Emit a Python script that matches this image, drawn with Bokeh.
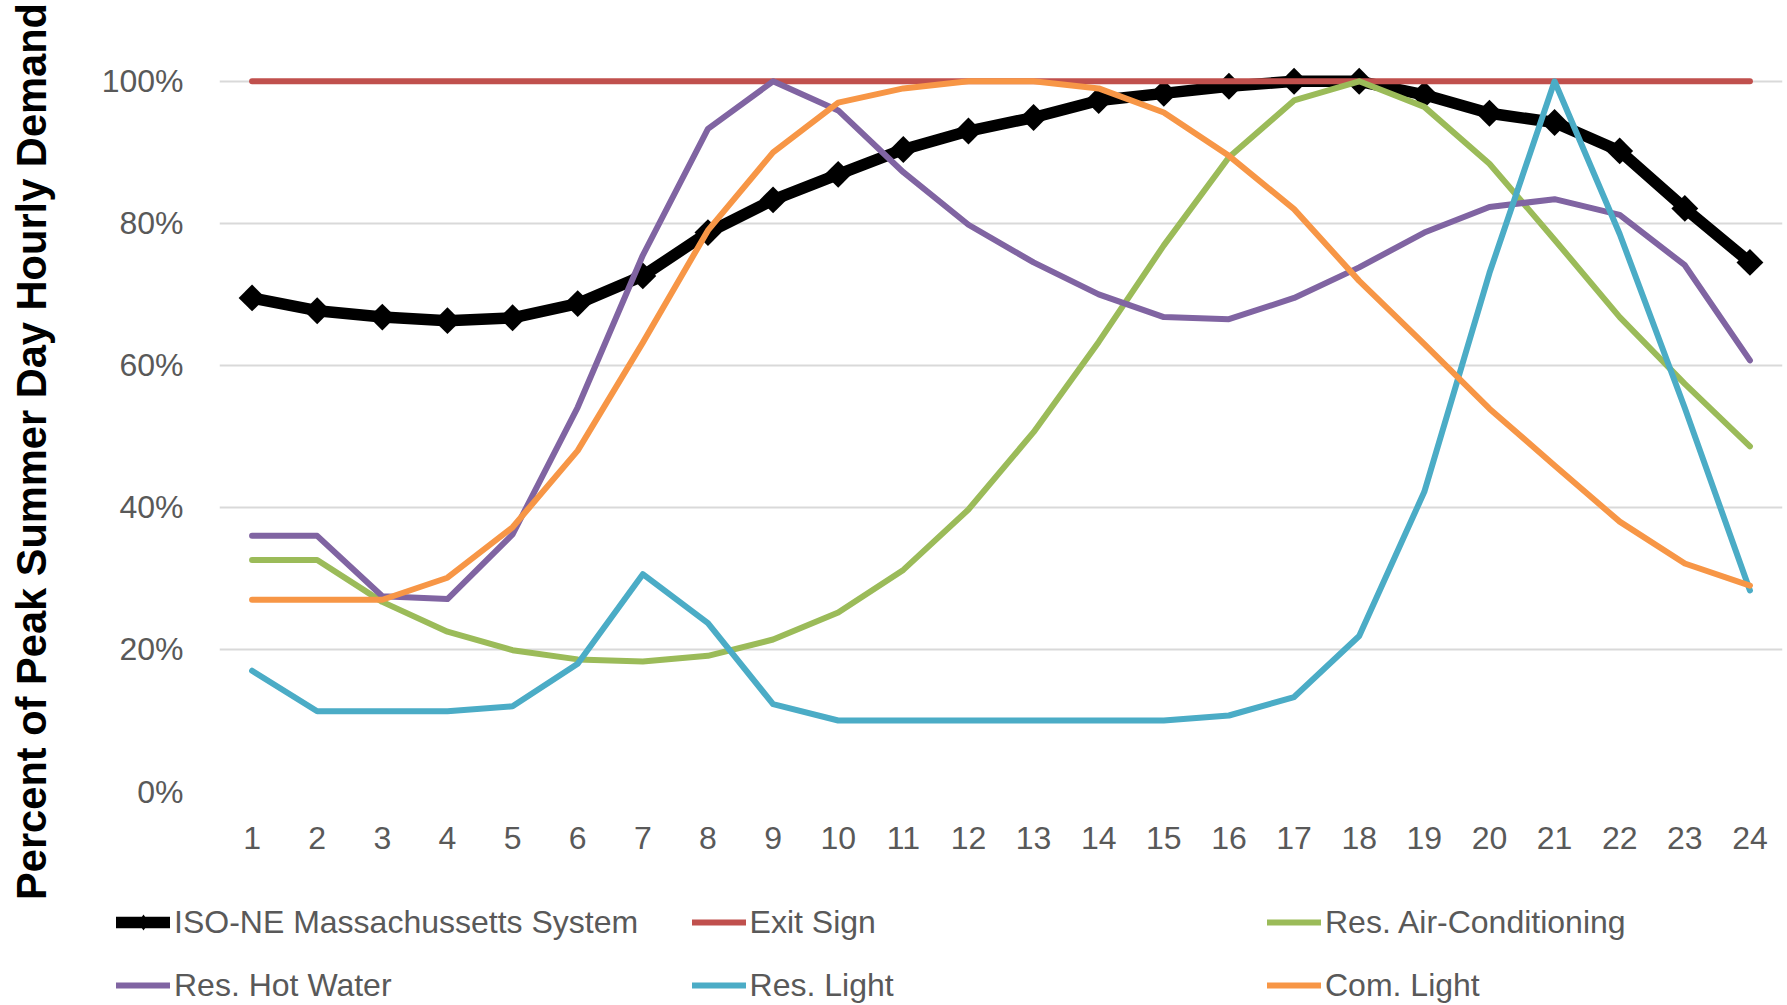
import math
from bokeh.plotting import figure
from bokeh.layouts import row, column
from bokeh.models import (Range1d, FixedTicker, NumeralTickFormatter, Legend, LegendItem,
                          ColumnDataSource)
from bokeh.core.properties import value
from bokeh.embed import file_html
from bokeh.resources import INLINE

# ---------------- data ----------------
hours = list(range(1, 25))
hour_labels = [str(h) for h in hours]
y_ticks = [0.0, 0.2, 0.4, 0.6, 0.8, 1.0]

iso_ne = [0.695, 0.677, 0.668, 0.663, 0.667, 0.687, 0.726, 0.787, 0.833, 0.869, 0.904, 0.930,
          0.949, 0.973, 0.983, 0.993, 1.000, 1.000, 0.981, 0.955, 0.942, 0.902, 0.821, 0.745]
exit_sign = [1.0, 1.0, 1.0, 1.0, 1.0, 1.0, 1.0, 1.0, 1.0, 1.0, 1.0, 1.0,
             1.0, 1.0, 1.0, 1.0, 1.0, 1.0, 1.0, 1.0, 1.0, 1.0, 1.0, 1.0]
res_ac = [0.326, 0.326, 0.267, 0.225, 0.199, 0.186, 0.183, 0.191, 0.214, 0.252, 0.312, 0.397,
          0.506, 0.633, 0.769, 0.893, 0.973, 1.000, 0.964, 0.884, 0.777, 0.668, 0.574, 0.486]
res_hot_water = [0.360, 0.360, 0.275, 0.271, 0.362, 0.541, 0.755, 0.933, 1.000, 0.959, 0.872, 0.798,
                 0.745, 0.700, 0.668, 0.665, 0.695, 0.738, 0.787, 0.823, 0.834, 0.812, 0.741, 0.607]
res_light = [0.170, 0.113, 0.113, 0.113, 0.120, 0.180, 0.306, 0.237, 0.123, 0.100, 0.100, 0.100,
             0.100, 0.100, 0.100, 0.107, 0.133, 0.219, 0.422, 0.730, 1.000, 0.785, 0.540, 0.283]
com_light = [0.270, 0.270, 0.270, 0.301, 0.372, 0.480, 0.632, 0.790, 0.900, 0.970, 0.990, 1.000,
             1.000, 0.990, 0.956, 0.895, 0.820, 0.719, 0.630, 0.539, 0.459, 0.380, 0.321, 0.290]

series_names = ["ISO-NE Massachussetts System", "Exit Sign", "Res. Air-Conditioning",
                "Res. Hot Water", "Res. Light", "Com. Light"]
series_colors = ["#000000", "#C0504D", "#9BBB59", "#8064A2", "#4BACC6", "#F79646"]
y_title = "Percent of Peak Summer Day Hourly Demand"

# ---------------- layout ----------------
W, H = 1784, 1005
TW = 70                      # narrow figure holding the rotated y title
H1 = 880                     # main chart height
PH = H - H1                  # legend strip height
ML, MR, MT, MB = 219 - TW, 2, 60, H1 - 791
frame_h = H1 - MT - MB
px_per_unit = 710.2
FONT = "Liberation Sans"
GREY = "#595959"
SERIES_LW = 6
ISO_LW = 11.5


def bare_figure(w, h, xr, yr):
    f = figure(width=w, height=h, output_backend="svg", toolbar_location=None,
               x_range=xr, y_range=yr, x_axis_type=None, y_axis_type=None,
               min_border_left=0, min_border_right=0, min_border_top=0, min_border_bottom=0)
    f.outline_line_color = None
    f.grid.visible = False
    return f


# --- rotated y-axis title ---
pt = bare_figure(TW, H, Range1d(0, TW), Range1d(0, H))
title_src = ColumnDataSource(dict(x=[31], y=[H - 451], t=[y_title]))
pt.text(x="x", y="y", text="t", source=title_src, angle=math.pi / 2,
        text_align="center", text_baseline="alphabetic",
        text_font=value(FONT), text_font_style="bold", text_font_size="41.6px",
        text_color="#000000")

# --- main chart ---
p = figure(width=W - TW, height=H1, output_backend="svg", toolbar_location=None,
           x_range=Range1d(0.5, 24.5), y_range=Range1d(0, frame_h / px_per_unit),
           min_border_left=ML, min_border_right=MR, min_border_top=MT, min_border_bottom=MB)
p.outline_line_color = None
p.xgrid.visible = False
p.ygrid.grid_line_color = "#D9D9D9"
p.ygrid.grid_line_width = 2

p.xaxis.ticker = FixedTicker(ticks=hours)
p.xaxis.major_label_overrides = {h: lab for h, lab in zip(hours, hour_labels)}
p.yaxis.ticker = FixedTicker(ticks=y_ticks)
p.yaxis.formatter = NumeralTickFormatter(format="0%")
for ax in (p.xaxis[0], p.yaxis[0]):
    ax.axis_line_color = None
    ax.major_tick_line_color = None
    ax.minor_tick_line_color = None
    ax.major_tick_out = 0
    ax.major_tick_in = 0
    ax.major_label_text_font = FONT
    ax.major_label_text_font_size = "32px"
    ax.major_label_text_color = GREY
p.xaxis.major_label_standoff = 35
p.yaxis.major_label_standoff = 36

p.line(hours, iso_ne, line_color=series_colors[0], line_width=ISO_LW,
       line_join="round", line_cap="round")
p.scatter(hours, iso_ne, marker="square", angle=math.pi / 4, size=19,
          fill_color=series_colors[0], line_color=None)
for i, vals in enumerate([exit_sign, res_ac, res_hot_water, res_light, com_light], start=1):
    p.line(hours, vals, line_color=series_colors[i], line_width=SERIES_LW,
           line_join="round", line_cap="round")

# --- legend strip (3 columns x 2 rows); its renderers hold no visible points ---
pl = bare_figure(W - TW, PH, Range1d(0, 1), Range1d(0, 1))
nan = [float("nan")]
leg_renderers = []
r0 = pl.line(nan, nan, line_color=series_colors[0], line_width=ISO_LW,
             line_join="round", line_cap="round")
r0m = pl.scatter(nan, nan, marker="diamond", size=27,
                 fill_color=series_colors[0], line_color=None)
leg_renderers.append([r0, r0m])
for i in range(1, 6):
    leg_renderers.append([pl.line(nan, nan, line_color=series_colors[i], line_width=SERIES_LW,
                                  line_join="round", line_cap="round")])

GH = 40
col_x = [116 - TW, 691.6 - TW, 1267 - TW]       # glyph start of each column
row_bottom = [PH - (922 - H1) - GH / 2, max(0, PH - (986 - H1) - GH / 2)]
for i in range(6):
    r, c = divmod(i, 3)
    leg = Legend(items=[LegendItem(label=series_names[i], renderers=leg_renderers[i])],
                 location=(col_x[c], row_bottom[r]), orientation="vertical",
                 padding=0, margin=0, spacing=0,
                 glyph_width=54, glyph_height=GH, label_height=GH, label_standoff=4,
                 label_text_font=FONT, label_text_font_size="32px", label_text_color=GREY,
                 border_line_color=None, background_fill_alpha=0)
    pl.add_layout(leg, "center")

layout = row(pt, column(p, row(pl)))
open("out.html", "w").write(file_html(layout, INLINE))
